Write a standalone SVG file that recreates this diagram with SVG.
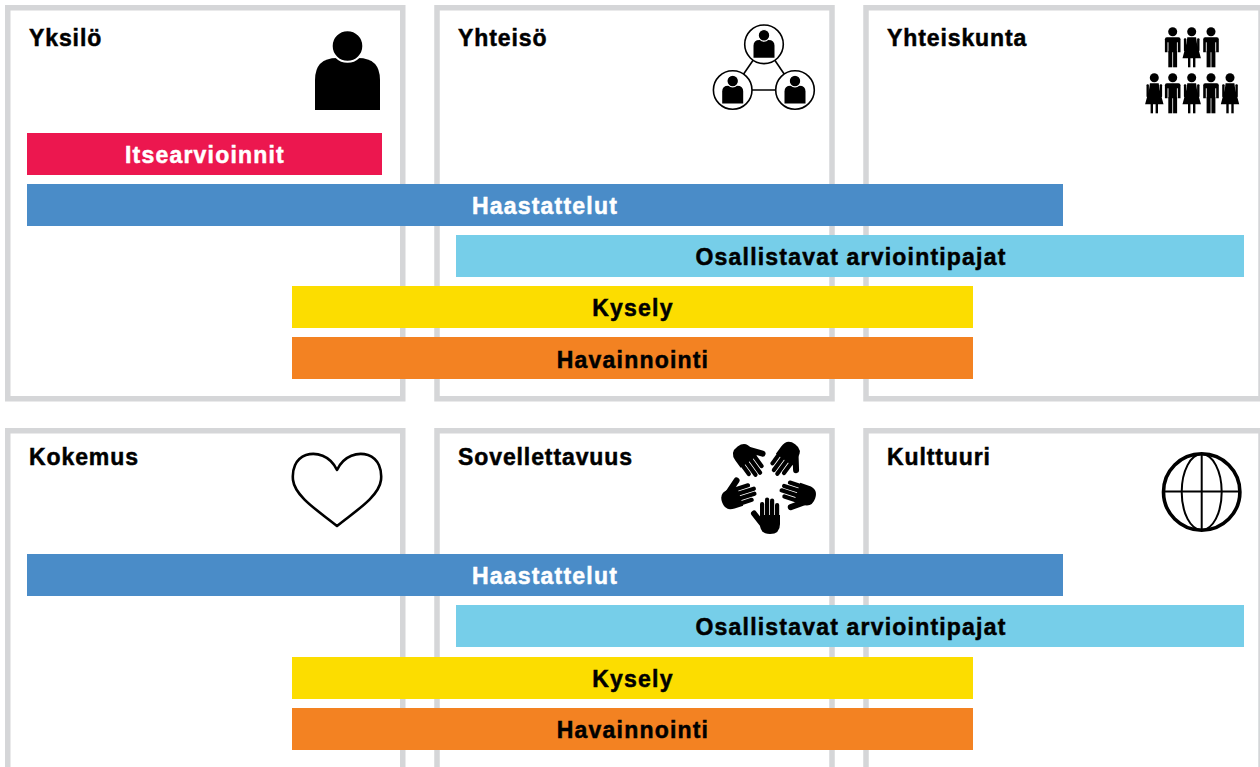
<svg xmlns="http://www.w3.org/2000/svg" xmlns:xlink="http://www.w3.org/1999/xlink" width="1260" height="767" viewBox="0 0 1260 767">
<style>
.box{fill:#fff;stroke:#d5d6d8;stroke-width:5.5}
.title{font-family:"Liberation Sans",Arial,sans-serif;font-weight:bold;font-size:23px;letter-spacing:0.9px;fill:#000;stroke:#000;stroke-width:0.5}
.lbl{font-family:"Liberation Sans",Arial,sans-serif;font-weight:bold;font-size:23px;letter-spacing:1.2px;text-anchor:middle;stroke-width:0.5}
.w{fill:#fff;stroke:#fff}.k{fill:#000}
text.k{stroke:#000}
.red{fill:#ec174f}.blue{fill:#4a8cc8}.cyan{fill:#76cee9}.yel{fill:#fcdd00}.ora{fill:#f38222}
</style>
<defs>
<g id="man">
<circle cx="0" cy="4.5" r="4.5"/>
<path d="M-7.8,12 Q-7.8,10 -5.8,10 H5.8 Q7.8,10 7.8,12 V25 H-7.8 Z"/>
<path d="M-4.7,15 V26 M4.7,15 V26" stroke="#fff" stroke-width="0.9"/>
<rect x="-4.4" y="24" width="4" height="16"/>
<rect x="0.4" y="24" width="4" height="16"/>
</g>
<g id="woman">
<circle cx="0" cy="4.5" r="4.5"/>
<rect x="-7.8" y="11" width="2.4" height="13" rx="1"/>
<rect x="5.4" y="11" width="2.4" height="13" rx="1"/>
<path d="M-4.4,10 H4.4 L5.2,16 L9.2,31 H-9.2 L-5.2,16 Z"/>
<rect x="-3.7" y="30" width="2.4" height="10"/>
<rect x="1.3" y="30" width="2.4" height="10"/>
</g>
<g id="mini">
<path d="M-10.5,13.5 V1.5 Q-10.5,-4.3 -4.5,-4.3 H4.5 Q10.5,-4.3 10.5,1.5 V13.5 Z"/>
<circle cx="0" cy="-9" r="5.8" stroke="#fff" stroke-width="1.2"/>
</g>
<g id="hand">
<path d="M-8,0 H12 V9 Q12,19 2,19 Q-8,19 -8,9 Z"/>
<rect x="-8" y="-13" width="4.2" height="17" rx="2.1"/>
<rect x="-3" y="-17.5" width="4.2" height="21" rx="2.1"/>
<rect x="2" y="-16.5" width="4.2" height="20" rx="2.1"/>
<rect x="7" y="-12" width="4.2" height="16" rx="2.1"/>
<path d="M-5,10 L-14,-1.5" stroke="#000" stroke-width="6" stroke-linecap="round"/>
</g>
</defs>
<rect width="1260" height="767" fill="#fff"/>

<g id="node-yksilo">
<rect class="box" x="7.75" y="7.75" width="395" height="391"/>
<text class="title" x="29" y="46">Yksilö</text>
<path class="k" d="M315,110 V80 Q315,58 337,58 H358 Q380,58 380,80 V110 Z"/>
<circle class="k" cx="347.5" cy="46" r="15.8" stroke="#fff" stroke-width="2"/>
</g>

<g id="node-yhteiso">
<rect class="box" x="437" y="7.75" width="395" height="391"/>
<text class="title" x="458" y="46">Yhteisö</text>
<g stroke="#000" stroke-width="1.6">
<line x1="764" y1="44.3" x2="732.7" y2="90"/>
<line x1="764" y1="44.3" x2="795" y2="90"/>
<line x1="732.7" y1="90" x2="795" y2="90"/>
<circle cx="764" cy="44.3" r="19.3" fill="#fff"/>
<circle cx="732.7" cy="90" r="19.3" fill="#fff"/>
<circle cx="795" cy="90" r="19.3" fill="#fff"/>
</g>
<use xlink:href="#mini" href="#mini" x="764" y="44.3"/>
<use xlink:href="#mini" href="#mini" x="732.7" y="90"/>
<use xlink:href="#mini" href="#mini" x="795" y="90"/>
</g>

<g id="node-yhteiskunta">
<rect class="box" x="866" y="7.75" width="395" height="391"/>
<text class="title" x="887" y="46">Yhteiskunta</text>
<use href="#man" x="1172.7" y="27.3"/>
<use href="#woman" x="1191.7" y="27.3"/>
<use href="#man" x="1211" y="27.3"/>
<use href="#woman" x="1154.3" y="73.3"/>
<use href="#man" x="1172.7" y="73.3"/>
<use href="#woman" x="1191.7" y="73.3"/>
<use href="#man" x="1211" y="73.3"/>
<use href="#woman" x="1230" y="73.3"/>
</g>

<g id="node-kokemus">
<rect class="box" x="7.75" y="430.75" width="395" height="400"/>
<text class="title" x="29" y="465">Kokemus</text>
<path d="M337,470 C330,455 316,452 306,455 C295,459 292,470 293,480 C295,497 320,512 337,526 C354,512 379,497 381,480 C382,470 379,459 368,455 C358,452 344,455 337,470 Z" fill="none" stroke="#000" stroke-width="2.6" stroke-linejoin="round"/>
</g>

<g id="node-sovellettavuus">
<rect class="box" x="437" y="430.75" width="395" height="400"/>
<text class="title" x="458" y="465">Sovellettavuus</text>
<use href="#hand" x="768" y="515"/>
<use href="#hand" x="768" y="515" transform="rotate(72 768 485)"/>
<use href="#hand" x="768" y="515" transform="rotate(144 768 485)"/>
<use href="#hand" x="768" y="515" transform="rotate(216 768 485)"/>
<use href="#hand" x="768" y="515" transform="rotate(288 768 485)"/>
</g>

<g id="node-kulttuuri">
<rect class="box" x="866" y="430.75" width="395" height="400"/>
<text class="title" x="887" y="465">Kulttuuri</text>
<g fill="none" stroke="#000">
<circle cx="1201.7" cy="492" r="38.2" stroke-width="3.6"/>
<ellipse cx="1201.7" cy="492" rx="20" ry="38" stroke-width="2"/>
<line x1="1201.7" y1="454" x2="1201.7" y2="530" stroke-width="2"/>
<line x1="1163" y1="491.5" x2="1240" y2="491.5" stroke-width="2"/>
</g>
</g>

<g id="bars-top">
<g id="bar-itsearvioinnit"><rect class="red" x="27" y="133" width="355" height="42"/><text class="lbl w" x="205" y="163">Itsearvioinnit</text></g>
<g id="bar-haastattelut-1"><rect class="blue" x="27" y="184" width="1036" height="42"/><text class="lbl w" x="545" y="214">Haastattelut</text></g>
<g id="bar-osallistavat-1"><rect class="cyan" x="456" y="235" width="788" height="42"/><text class="lbl k" x="851" y="265">Osallistavat arviointipajat</text></g>
<g id="bar-kysely-1"><rect class="yel" x="292" y="286" width="681" height="42"/><text class="lbl k" x="633" y="316">Kysely</text></g>
<g id="bar-havainnointi-1"><rect class="ora" x="292" y="337" width="681" height="42"/><text class="lbl k" x="633" y="367.5">Havainnointi</text></g>
</g>

<g id="bars-bottom">
<g id="bar-haastattelut-2"><rect class="blue" x="27" y="554" width="1036" height="42"/><text class="lbl w" x="545" y="584">Haastattelut</text></g>
<g id="bar-osallistavat-2"><rect class="cyan" x="456" y="605" width="788" height="42"/><text class="lbl k" x="851" y="635">Osallistavat arviointipajat</text></g>
<g id="bar-kysely-2"><rect class="yel" x="292" y="657" width="681" height="42"/><text class="lbl k" x="633" y="687">Kysely</text></g>
<g id="bar-havainnointi-2"><rect class="ora" x="292" y="708" width="681" height="42"/><text class="lbl k" x="633" y="738">Havainnointi</text></g>
</g>

<g id="connectors"></g>
</svg>
